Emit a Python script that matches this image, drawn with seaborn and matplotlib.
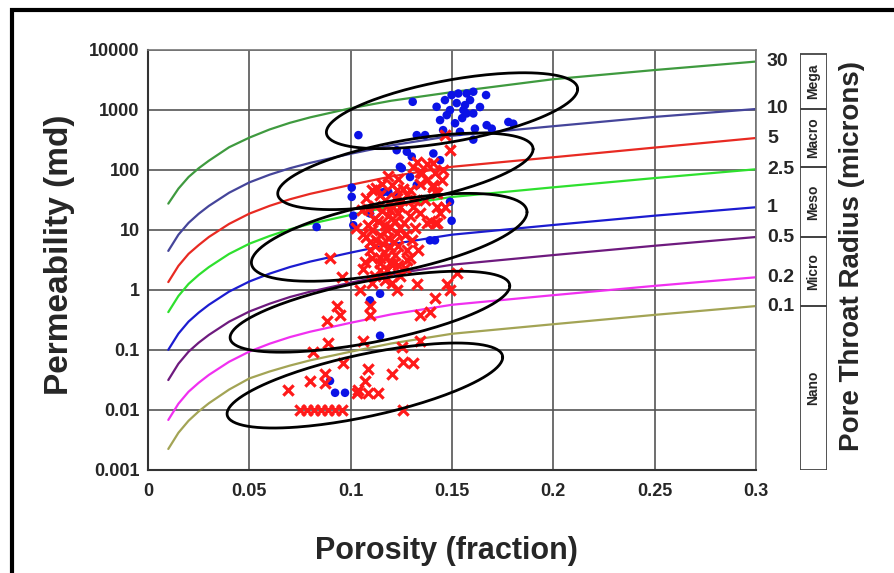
import numpy as np
import pandas as pd
import seaborn as sns
import matplotlib.pyplot as plt
from matplotlib.patches import Rectangle
from matplotlib.transforms import blended_transform_factory

# pore throat radius curves (porosity fraction vs permeability md)
phi_grid = [0.01, 0.015, 0.02, 0.025, 0.03, 0.04, 0.05, 0.06, 0.07, 0.08,
            0.10, 0.12, 0.15, 0.20, 0.25, 0.30]
k_r30 = [27, 48, 75, 105, 140, 235, 340, 465, 600, 740, 1050, 1400, 1950, 3200, 4550, 6300]
k_r10 = [4.4, 8.2, 12.9, 18.3, 24.7, 41, 61, 82, 105, 129, 183, 252, 365, 527, 753, 1020]
k_r5 = [1.33, 2.48, 3.93, 5.5, 7.5, 12.4, 18.4, 24.8, 31.9, 39.3, 55.5, 76.6, 111, 160, 232, 335]
k_r2_5 = [0.42, 0.78, 1.24, 1.75, 2.36, 3.92, 5.8, 7.8, 10.1, 12.4, 17.5, 24.2, 34.9, 50.5, 72, 101]
k_r1 = [0.099, 0.184, 0.292, 0.412, 0.556, 0.923, 1.36, 1.84, 2.37, 2.92, 4.12, 5.69, 8.2, 11.9, 17.0, 23.5]
k_r0_5 = [0.031, 0.058, 0.092, 0.13, 0.175, 0.291, 0.43, 0.58, 0.75, 0.92, 1.30, 1.79, 2.59, 3.75, 5.36, 7.5]
k_r0_2 = [0.0067, 0.0125, 0.0198, 0.0279, 0.0377, 0.0625, 0.0925, 0.125, 0.161, 0.198,
          0.279, 0.385, 0.557, 0.805, 1.15, 1.6]
k_r0_1 = [0.0022, 0.0041, 0.0065, 0.0093, 0.0127, 0.0215, 0.033, 0.043, 0.054, 0.066,
          0.092, 0.126, 0.183, 0.264, 0.378, 0.53]
radius_labels = ["30", "10", "5", "2.5", "1", "0.5", "0.2", "0.1"]
curve_colors = ["#3f9a3f", "#45459a", "#e82a22", "#2ee02e", "#1c1cd0",
                "#6e1a7e", "#f030f0", "#a3a455"]

# core samples
blue_phi = [0.1306, 0.1038, 0.1424, 0.1465, 0.1498, 0.1531, 0.1572, 0.1605, 0.1668,
            0.1474, 0.1523, 0.1556, 0.1572, 0.1605, 0.1515, 0.1539, 0.1613, 0.1671,
            0.1696, 0.1778, 0.1802, 0.1326, 0.1367, 0.1605, 0.1456, 0.1564, 0.1441,
            0.1490, 0.1550, 0.1589, 0.1638,
            0.1227, 0.1277, 0.1301, 0.1243, 0.1252, 0.1408, 0.1441, 0.1293, 0.1326,
            0.1005, 0.1005, 0.1161, 0.1186, 0.1227, 0.1013, 0.1013, 0.1095, 0.1498,
            0.1490, 0.1391, 0.1416, 0.0832, 0.1145, 0.1095, 0.1145, 0.0898, 0.0923,
            0.0972]
blue_k = [1345, 374, 1110, 1435, 1738, 1850, 1850, 1980, 1740,
          806, 1280, 977, 860, 860, 590, 425, 480, 549,
          480, 620, 580, 374, 374, 315, 453, 1184, 666,
          977, 720, 1435, 1100,
          210, 198, 164, 111, 105, 185, 143, 75, 55,
          50, 35, 42, 42, 37, 17, 11.8, 18.5, 14,
          29, 6.6, 6.6, 11, 0.85, 0.66, 0.17, 0.030, 0.019,
          0.019]
red_phi = [0.1465, 0.1490, 0.1309, 0.1350, 0.1408, 0.1416, 0.1375, 0.1408, 0.1424,
           0.1424, 0.1465, 0.1416, 0.1095, 0.0898, 0.1408, 0.1416, 0.1342, 0.1227,
           0.1277, 0.1194, 0.1243, 0.1309, 0.1342, 0.1441, 0.1424, 0.1375, 0.1178,
           0.1227, 0.1194, 0.1277, 0.1145, 0.1210, 0.1277, 0.1145, 0.1062, 0.0956,
           0.1046, 0.1227, 0.1326, 0.1474, 0.1490, 0.1523, 0.1416, 0.0931, 0.0947,
           0.0882, 0.1095, 0.1095, 0.1342, 0.1391, 0.0890, 0.1062, 0.0816, 0.1342,
           0.0964, 0.1252, 0.1260, 0.1309, 0.1087, 0.1202, 0.1071, 0.1038, 0.0799,
           0.0873, 0.0873, 0.0692, 0.1030, 0.1087, 0.1136,
           0.0750, 0.0785, 0.0820, 0.0854, 0.0888, 0.0923, 0.0957, 0.1260,
           0.1145, 0.1169, 0.1120, 0.1155, 0.1135, 0.1169, 0.1105, 0.1145, 0.1184,
           0.1120, 0.1219, 0.1243, 0.1268, 0.1293, 0.1253, 0.1204, 0.1233, 0.1184,
           0.1293, 0.1303, 0.1233, 0.1164, 0.1105, 0.1194, 0.1120, 0.1169, 0.1243,
           0.1268, 0.1219, 0.1085, 0.1061, 0.1125, 0.1076, 0.1317, 0.1332, 0.1367,
           0.1391, 0.1204, 0.1160,
           0.1105, 0.1219, 0.1085, 0.1184, 0.1233, 0.1115, 0.1194, 0.1076, 0.1125,
           0.1214, 0.1263, 0.1095, 0.1174, 0.1233, 0.1071, 0.1145, 0.1293, 0.1179,
           0.1105, 0.1204, 0.1056, 0.1026, 0.1258, 0.1155, 0.1317, 0.1342, 0.1375,
           0.1326, 0.1456, 0.1450]
red_k = [374, 210, 111, 86, 126, 86, 66, 51, 40,
         24, 24, 12.6, 6.2, 3.4, 55, 42, 58, 45,
         37, 21, 24, 24, 18.5, 18.5, 12.6, 12.6, 9.7,
         8.8, 5.1, 4.5, 3.4, 2.7, 3.1, 2.1, 2.2, 1.6,
         0.97, 0.97, 1.25, 1.25, 0.97, 1.9, 0.72, 0.54, 0.37,
         0.30, 0.54, 0.37, 0.37, 0.42, 0.13, 0.14, 0.090, 0.14,
         0.060, 0.11, 0.063, 0.060, 0.047, 0.039, 0.030, 0.021, 0.030,
         0.039, 0.028, 0.021, 0.019, 0.019, 0.019,
         0.01, 0.01, 0.01, 0.01, 0.01, 0.01, 0.01, 0.01,
         37, 31, 25, 20, 14, 11.8, 9.7, 8.0, 7.2,
         5.4, 14, 10.7, 8.0, 17, 31, 55, 70, 77,
         45, 6.6, 5.4, 4.2, 3.4, 2.8, 1.7, 1.42, 1.7,
         2.3, 3.7, 11.8, 8.5, 50, 33, 10.7, 4.5, 31,
         14, 25, 5.8,
         45, 33, 22, 17, 18.5, 15, 11.2, 7.4, 6.6,
         6.1, 12.8, 4.5, 3.5, 2.6, 2.9, 2.8, 3.3, 2.1,
         1.3, 1.3, 21, 10.5, 48, 57, 31, 92, 125,
         132, 98, 66]

# petrofacies clusters (ellipses in porosity / log-permeability space)
ell_phi = [0.150, 0.127, 0.119, 0.1095, 0.107]
ell_logk = [2.98, 1.97, 0.87, -0.37, -1.60]
ell_half_phi = [0.062, 0.063, 0.068, 0.069, 0.068]
ell_rise = [0.36, 0.37, 0.42, 0.43, 0.47]
ell_half_logk = [0.52, 0.52, 0.60, 0.52, 0.53]

# pore type column
pore_types = ["Mega", "Macro", "Meso", "Micro", "Nano"]
pore_top = [8400, 1020, 110, 7.5, 0.53]
pore_bottom = [1020, 110, 7.5, 0.53, 0.001]

sns.set_style("white")
plt.rcParams['font.family'] = ['Liberation Sans', 'DejaVu Sans']
plt.rcParams['font.weight'] = 'bold'

fig = plt.figure(figsize=(8.95, 5.73), dpi=100)
ax = fig.add_axes([0.1654, 0.1806, 0.6793, 0.733])

curves = [k_r30, k_r10, k_r5, k_r2_5, k_r1, k_r0_5, k_r0_2, k_r0_1]
rows = []
for lab, ks in zip(radius_labels, curves):
    for p, k in zip(phi_grid, ks):
        rows.append((lab, p, k))
df = pd.DataFrame(rows, columns=["radius", "porosity", "perm"])
sns.lineplot(data=df, x="porosity", y="perm", hue="radius", hue_order=radius_labels,
             palette=dict(zip(radius_labels, curve_colors)), estimator=None,
             sort=False, linewidth=1.6, legend=False, ax=ax)

sns.scatterplot(x=blue_phi, y=blue_k, color="#0b12e6", s=38, edgecolor="none",
                ax=ax, zorder=4)
sns.scatterplot(x=red_phi, y=red_k, color="#ff1a1a", marker="x", s=55,
                linewidth=2.3, ax=ax, zorder=5)

t = np.linspace(0, 2 * np.pi, 200)
for cp, cl, hp, rise, hl in zip(ell_phi, ell_logk, ell_half_phi, ell_rise, ell_half_logk):
    ex = cp + hp * np.cos(t)
    ey = cl + rise * np.cos(t) + hl * np.sin(t)
    ax.plot(ex, 10 ** ey, color="black", lw=2.0, zorder=6)

ax.set_yscale("log")
ax.set_ylim(0.001, 10000)
ax.set_xlim(0, 0.3)
yt = [0.001, 0.01, 0.1, 1, 10, 100, 1000, 10000]
ax.set_yticks(yt)
ax.set_yticklabels(["0.001", "0.01", "0.1", "1", "10", "100", "1000", "10000"])
ax.yaxis.set_minor_locator(plt.NullLocator())
xt = [0, 0.05, 0.1, 0.15, 0.2, 0.25, 0.3]
ax.set_xticks(xt)
ax.set_xticklabels(["0", "0.05", "0.1", "0.15", "0.2", "0.25", "0.3"])
ax.tick_params(axis="both", labelsize=13, direction="out", length=4, width=1.2,
               color="#333333")
ax.tick_params(axis="y", pad=2)
ax.tick_params(axis="x", pad=6)
for lbl in ax.get_xticklabels() + ax.get_yticklabels():
    lbl.set_fontweight("bold")
ax.grid(True, color="#555555", lw=1.2)
ax.set_axisbelow(True)
for side in ["top", "right"]:
    ax.spines[side].set_color("#777777")
    ax.spines[side].set_linewidth(1.2)
for side in ["left", "bottom"]:
    ax.spines[side].set_color("#333333")
    ax.spines[side].set_linewidth(1.5)

ax.set_xlabel("Porosity (fraction)", fontsize=22, fontweight="bold")
ax.set_ylabel("Permeability (md)", fontsize=24, fontweight="bold")
ax.xaxis.set_label_coords(0.49, -0.158)
ax.yaxis.set_label_coords(-0.12, 0.51)

trans = blended_transform_factory(ax.transAxes, ax.transData)
for lab, ks in zip(radius_labels, curves):
    ax.text(1.018, ks[-1], lab, transform=trans, ha="left", va="center",
            fontsize=14, fontweight="bold")

bax = fig.add_axes([800 / 895, 0.1806, 27 / 895, 0.733])
bax.set_yscale("log")
bax.set_ylim(0.001, 10000)
bax.set_xlim(-0.5, 0.5)
bax.bar([0] * len(pore_types), np.array(pore_top) - np.array(pore_bottom),
        bottom=pore_bottom, width=1.0, fill=False, edgecolor="#444444", lw=1.3)
for name, top, bot in zip(pore_types, pore_top, pore_bottom):
    bax.text(0, np.sqrt(top * bot), name, rotation=90, ha="center", va="center",
             fontsize=10, fontweight="bold")
bax.axis("off")

fig.text(0.952, 0.553, "Pore Throat Radius (microns)", rotation=90, ha="center",
         va="center", fontsize=20, fontweight="bold")

fig.patches.append(Rectangle((12 / 895, -0.05), 1.2, 1.05 - 10 / 573, fill=False,
                             lw=3, ec="black", transform=fig.transFigure))

fig.savefig("out.png", dpi=100)
